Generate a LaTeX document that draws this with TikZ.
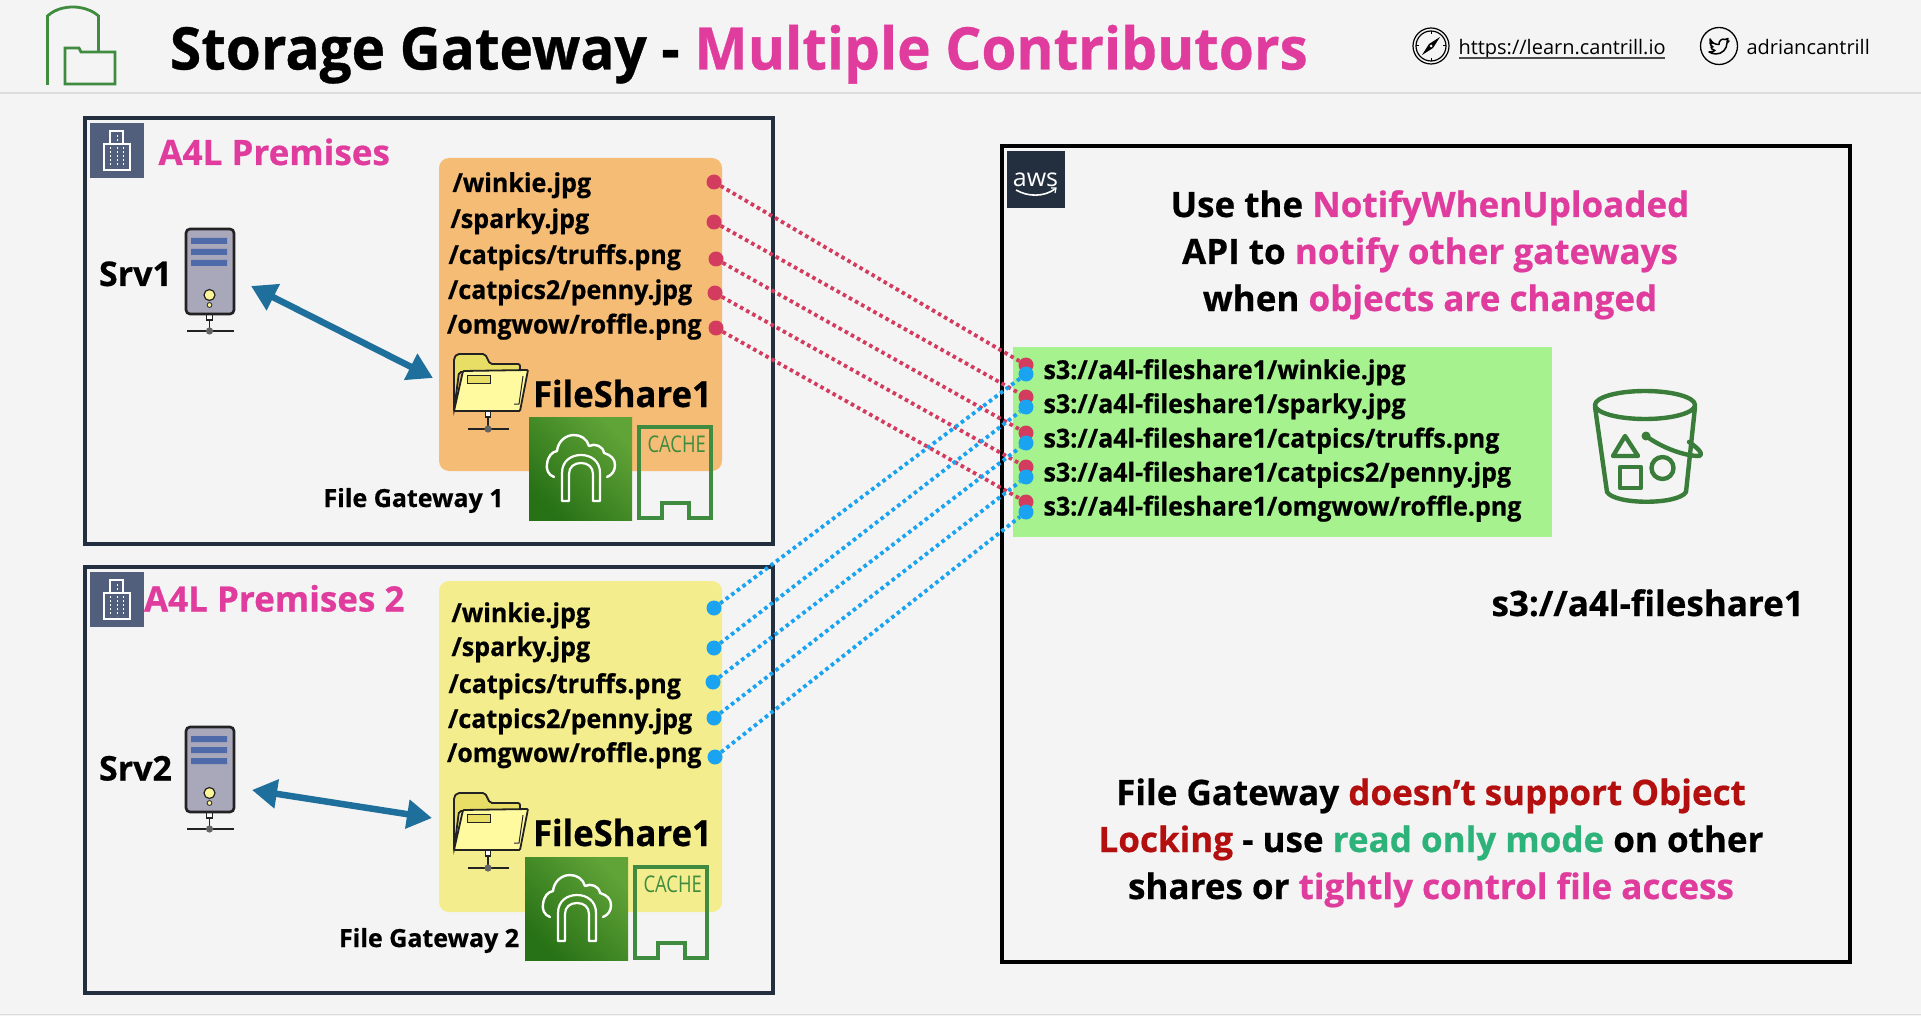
\documentclass[tikz,border=0pt]{standalone}
\usepackage{fontspec}
\setmainfont{Open Sans}[BoldFeatures={FakeBold=0.6}]
\newfontfamily\narrowf{Open Sans}[FakeStretch=0.963,BoldFeatures={FakeBold=0.6}]
\usetikzlibrary{arrows.meta}
\definecolor{bgc}{HTML}{F4F4F4}
\definecolor{hline}{HTML}{DCDCDC}
\definecolor{pinkc}{HTML}{E03C9E}
\definecolor{boxc}{HTML}{232F3E}
\definecolor{bldg}{HTML}{525F7C}
\definecolor{orangep}{HTML}{F4BC75}
\definecolor{yellowp}{HTML}{F4ED8D}
\definecolor{greenp}{HTML}{A6F28E}
\definecolor{redd}{HTML}{D33C5E}
\definecolor{blued}{HTML}{1AA3F0}
\definecolor{arrowc}{HTML}{1F6F9C}
\definecolor{iconG}{HTML}{3F8B3F}
\definecolor{bucketG}{HTML}{3A7D3A}
\definecolor{srvbody}{HTML}{A9A7BA}
\definecolor{srvbay}{HTML}{4F6AA8}
\definecolor{srvline}{HTML}{222222}
\definecolor{ledy}{HTML}{FBF59A}
\definecolor{folderb}{HTML}{E8DE65}
\definecolor{folderf}{HTML}{FFFAA0}
\definecolor{gwdark}{HTML}{277116}
\definecolor{gwlight}{HTML}{60A337}
\definecolor{darkred}{HTML}{B30F0F}
\definecolor{okgreen}{HTML}{2DB37A}
\newcommand{\sz}[1]{\fontsize{#1}{#1}\selectfont}
\tikzset{
  lbl/.style={anchor=base west,inner sep=0pt,outer sep=0pt,text=black},
  ctr/.style={anchor=base,inner sep=0pt,outer sep=0pt,text=black},
  bf/.style={font=\sz{#1}\bfseries},
  nf/.style={font=\narrowf\sz{#1}\bfseries},
  outerbox/.style={draw=boxc,line width=4pt},
  reddot/.style={circle,fill=redd,inner sep=0pt,minimum size=15pt},
  bluedot/.style={circle,fill=blued,inner sep=0pt,minimum size=15pt},
  redlink/.style={draw=redd,line width=3.8pt,dash pattern=on 3.6pt off 3.4pt},
  bluelink/.style={draw=blued,line width=3.8pt,dash pattern=on 3.6pt off 3.4pt},
  bigarrow/.style={draw=arrowc,line width=6.5pt,{Triangle[length=25pt,width=28pt]}-{Triangle[length=25pt,width=28pt]},shorten >=0pt,shorten <=0pt}
}
\newcommand{\drawbldg}[2]{%
  \begin{scope}[shift={(#1,#2)}]
  \fill[bldg] (0,0) rectangle (54,55);
  \draw[white,line width=1.3pt] (14,21) rectangle (40,47) (20,21) -- (20,8) -- (33,8) -- (33,21);
  \draw[white,line width=1pt,dash pattern=on 2pt off 2pt] (20,24)--(20,44) (27,12)--(27,44) (33,24)--(33,44);
  \end{scope}}
\newcommand{\drawserver}[2]{%
  \begin{scope}[shift={(#1,#2)}]
  \draw[srvline,line width=1.5pt] (23.5,85)--(23.5,102) (1,102)--(48,102);
  \fill[srvline!70!white] (23.5,102) circle (3.6pt);
  \filldraw[fill=white,draw=srvline,line width=1.2pt] (20.5,85) rectangle (26.5,91);
  \filldraw[fill=srvbody,draw=srvline,line width=2.6pt,rounded corners=4pt] (0,0) rectangle (48,85);
  \fill[srvbay] (5,9) rectangle (41,15) (5,20) rectangle (41,26) (5,31) rectangle (41,37);
  \filldraw[fill=ledy,draw=srvline,line width=1.2pt] (23.5,66) circle (5.5pt);
  \filldraw[fill=ledy,draw=srvline,line width=.8pt] (23.5,76) circle (2.4pt);
  \end{scope}}
\newcommand{\drawfolder}[2]{%
  \begin{scope}[shift={(#1,#2)}]
  \draw[srvline,line width=1.5pt] (34,57)--(34,75) (14,75)--(55,75);
  \fill[srvline!70!white] (34,75) circle (3.6pt);
  \filldraw[fill=white,draw=srvline,line width=1.2pt] (31.5,57) rectangle (36.5,63);
  \filldraw[fill=folderb,draw=srvline,line width=1.8pt,rounded corners=2pt] (0,57) -- (0,4) -- (3,0) -- (31,0) -- (36,10) -- (66,10) -- (66,18) -- (5,18) -- cycle;
  \filldraw[fill=folderf,draw=srvline,line width=1.8pt,rounded corners=1pt] (0,57) -- (9,17) -- (74,16) -- (66,57) -- cycle;
  \filldraw[fill=folderb,draw=srvline,line width=1pt] (13,21) rectangle (36,29);
  \draw[srvline,line width=1pt] (69,22)--(65,50)--(60,50);
  \end{scope}}
\newcommand{\drawgw}[2]{%
  \begin{scope}[shift={(#1,#2)}]
  \fill[top color=gwlight,bottom color=gwdark,shading angle=-45] (0,0) rectangle (103,103);
  \draw[white,line width=2.4pt,line cap=round,line join=round]
    (25,60) .. controls (19,58) and (17,52) .. (18,47) .. controls (19,39) and (23,35) .. (28,34)
    .. controls (29,24) and (37,18) .. (45,18) .. controls (52,18) and (58,22) .. (60,29)
    .. controls (66,26) and (74,29) .. (75,36) .. controls (82,38) and (86,42) .. (86,48) .. controls (86,54) and (83,58) .. (78,60);
  \draw[white,line width=2.2pt,line join=round]
    (33,84) -- (33,56) .. controls (33,44) and (42,38) .. (52,38) .. controls (62,38) and (71,44) .. (71,56) -- (71,84) -- (64,84) -- (64,57)
    .. controls (64,50) and (59,46) .. (52,46) .. controls (45,46) and (40,50) .. (40,57) -- (40,84) -- cycle;
  \end{scope}}
\newcommand{\drawcache}[2]{%
  \begin{scope}[shift={(#1,#2)}]
  \draw[iconG,line width=3.6pt] (0,0) -- (72,0) -- (72,91) -- (50,91) -- (50,76) -- (23,76) -- (23,91) -- (0,91) -- cycle;
  \node[lbl,text=iconG,font=\sz{23}] at (8.5,25.5) {\scalebox{.8}[1]{CACHE}};
  \end{scope}}
\begin{document}
\begin{tikzpicture}[x=1pt,y=-1pt]
\useasboundingbox (0,0) rectangle (1921,1016);
\fill[bgc] (0,0) rectangle (1921,1016);
\draw[hline,line width=1.5pt] (0,93) -- (1921,93);
\draw[hline,line width=1.5pt] (0,1014.5) -- (1921,1014.5);
% logo
\draw[iconG,line width=2.8pt] (47.5,85) -- (47.5,16) .. controls (55,9) and (65,7) .. (73,7) .. controls (82,7) and (92,10) .. (98.5,16) -- (98.5,51);
\draw[iconG,line width=2.8pt] (65,84) -- (65,48) -- (79,48) -- (81,52) -- (115,52) -- (115,84) -- cycle;
% title
\node[lbl,nf=58.8] (title) at (170,69.5) {Storage Gateway - \textcolor{pinkc}{Multiple Contributors}};
% header right
\draw[black,line width=1.2pt] (1431,46) circle (18pt) (1431,46) circle (15pt);
\fill[black] (1440,37) -- (1433,48) -- (1422,55) -- (1429,44) -- cycle;
\fill[bgc] (1431,46) circle (1.5pt);
\draw[black,line width=1pt] (1431,31)--(1431,34) (1431,58)--(1431,61) (1416,46)--(1419,46) (1443,46)--(1446,46);
\node[lbl,font=\sz{20}] (web) at (1458.5,55) {https://learn.cantrill.io};
\draw[black!70,line width=1.2pt] (1459,58) -- (1665,58);
\draw[black,line width=1.3pt] (1719,46) circle (18.5pt);
\begin{scope}[shift={(1719,46)}]
\draw[black,line width=1.5pt,line join=round] (-9,-7) .. controls (-7,-3) and (-4,-1.5) .. (0,-1.5) .. controls (-0.5,-5) and (3,-8) .. (6,-6.5) -- (9,-7.5) -- (8,-4.5) -- (10,-5) -- (8,-3) .. controls (8,3) and (3,8) .. (-3,8) .. controls (-6,8) and (-8,7) .. (-10,6) .. controls (-7,6) and (-5,5.5) .. (-4,4.5) .. controls (-7,4) and (-8,2) .. (-8,1) -- (-6,1) .. controls (-8,0) and (-9,-2) .. (-9,-3) -- (-7,-2.5) .. controls (-9,-4) and (-9.5,-5.5) .. (-9,-7) -- cycle;
\end{scope}
\node[lbl,font=\sz{20}] (tw) at (1746.5,55) {adriancantrill};
% boxes
\draw[outerbox] (85,118) rectangle (773,544);
\draw[outerbox] (85,567) rectangle (773,993);
\draw[draw=black,line width=4pt] (1002,146) rectangle (1850,962);
% panels
\fill[orangep,rounded corners=10pt] (439,158) rectangle (722,471);
\fill[yellowp,rounded corners=10pt] (439,581) rectangle (722,912);
\fill[greenp] (1013,347) rectangle (1552,537);
% premises labels
\drawbldg{90}{123}
\drawbldg{90}{572}
\node[lbl,bf=35] (p1) at (158.5,165) {\textcolor{pinkc}{A4L Premises}};
\node[lbl,bf=35] (p2) at (144,611.5) {\textcolor{pinkc}{A4L Premises 2}};
% servers
\drawserver{186}{229}
\drawserver{186}{727}
\node[lbl,bf=34] (srv1) at (99,286) {Srv1};
\node[lbl,bf=34] (srv2) at (99,780.5) {Srv2};
% folders
\drawfolder{454}{354}
\drawfolder{454}{793}
\node[lbl,nf=36] (fs1) at (533,407) {FileShare1};
\node[lbl,nf=36] (fs2) at (533,846) {FileShare1};
% arrows
\coordinate (s1a) at (251,286);
\coordinate (f1a) at (433,378);
\coordinate (s2a) at (252,790);
\coordinate (f2a) at (432,818);
\draw[bigarrow] (s1a) -- (f1a);
\draw[bigarrow] (s2a) -- (f2a);
% gateways
\drawgw{529}{417}
\drawgw{525}{857}
\drawcache{639}{427}
\drawcache{635}{867}
\node[lbl,bf=25] (g1) at (323.5,507) {File Gateway 1};
\node[lbl,bf=25] (g2) at (339,947) {File Gateway 2};
% orange file names
\node[lbl,nf=26] (o1) at (452.5,192) {/winkie.jpg};
\node[lbl,nf=26] (o2) at (450.5,228) {/sparky.jpg};
\node[lbl,nf=26] (o3) at (448.5,264) {/catpics/truffs.png};
\node[lbl,nf=26] (o4) at (448,299) {/catpics2/penny.jpg};
\node[lbl,nf=26] (o5) at (447,333.5) {/omgwow/roffle.png};
% yellow file names
\node[lbl,nf=26] (y1) at (451.5,622) {/winkie.jpg};
\node[lbl,nf=26] (y2) at (451.5,656) {/sparky.jpg};
\node[lbl,nf=26] (y3) at (448.5,693) {/catpics/truffs.png};
\node[lbl,nf=26] (y4) at (448,728) {/catpics2/penny.jpg};
\node[lbl,nf=26] (y5) at (447,762) {/omgwow/roffle.png};
% s3 names
\node[lbl,nf=26] (k1) at (1043.5,379) {s3://a4l-fileshare1/winkie.jpg};
\node[lbl,nf=26] (k2) at (1043.5,413) {s3://a4l-fileshare1/sparky.jpg};
\node[lbl,nf=26] (k3) at (1043.5,447.5) {s3://a4l-fileshare1/catpics/truffs.png};
\node[lbl,nf=26] (k4) at (1043.5,481.5) {s3://a4l-fileshare1/catpics2/penny.jpg};
\node[lbl,nf=26] (k5) at (1043.5,515.5) {s3://a4l-fileshare1/omgwow/roffle.png};
% dots
\node[reddot] (ro1) at (714,182) {};
\node[reddot] (ro2) at (714,222) {};
\node[reddot] (ro3) at (716,259) {};
\node[reddot] (ro4) at (715,293) {};
\node[reddot] (ro5) at (716,328) {};
\node[reddot] (rs1) at (1026,365) {};
\node[reddot] (rs2) at (1026,397) {};
\node[reddot] (rs3) at (1026,433) {};
\node[reddot] (rs4) at (1026,467) {};
\node[reddot] (rs5) at (1026,502) {};
\node[bluedot] (bo1) at (714,608) {};
\node[bluedot] (bo2) at (714,648) {};
\node[bluedot] (bo3) at (713,682) {};
\node[bluedot] (bo4) at (714,718) {};
\node[bluedot] (bo5) at (715,757) {};
\node[bluedot] (bs1) at (1026,374) {};
\node[bluedot] (bs2) at (1026,407) {};
\node[bluedot] (bs3) at (1026,443) {};
\node[bluedot] (bs4) at (1026,477) {};
\node[bluedot] (bs5) at (1026,512) {};
% links
\foreach \i in {1,...,5}{\draw[redlink] (ro\i) -- (rs\i);}
\foreach \i in {1,...,5}{\draw[bluelink] (bo\i) -- (bs\i);}
% aws badge
\fill[boxc] (1007,151) rectangle (1065,208);
\node[ctr,text=white,font=\sz{25}] (aws) at (1035.5,187) {aws};
\draw[white,line width=1.6pt] (1016,190) .. controls (1028,197) and (1044,197) .. (1055,189);
\draw[white,line width=1.2pt] (1051,188) -- (1056,188) -- (1055,193);
% aws heading
\node[ctr,bf=35] (h1) at (1430,217) {Use the \textcolor{pinkc}{NotifyWhenUploaded}};
\node[ctr,bf=35] (h2) at (1430,264) {API to \textcolor{pinkc}{notify other gateways}};
\node[ctr,bf=35] (h3) at (1430,311) {when \textcolor{pinkc}{objects are changed}};
% bucket
\begin{scope}[bucketG,line width=4.4pt,line join=round,line cap=round]
\draw (1645,405) ellipse (50pt and 14pt);
\draw (1595,407) -- (1607,492) .. controls (1615,505) and (1678,505) .. (1686,492) -- (1695,407);
\draw (1625,436) -- (1613,456) -- (1638,456) -- cycle;
\draw (1620,467) rectangle (1641,488);
\draw (1662.5,468) circle (11pt);
\draw (1646,436) .. controls (1662,448) and (1685,456) .. (1699,456) .. controls (1705,454) and (1695,446) .. (1689,442);
\fill (1646,436) circle (4.5pt);
\end{scope}
\node[lbl,bf=35] (bname) at (1491.5,616) {s3://a4l-fileshare1};
% bottom note
\node[ctr,bf=35] (n1) at (1431,805) {File Gateway \textcolor{darkred}{doesn’t support Object}};
\node[ctr,bf=35] (n2) at (1431,852) {\textcolor{darkred}{Locking} - use \textcolor{okgreen}{read only mode} on other};
\node[ctr,bf=35] (n3) at (1431,899) {shares or \textcolor{pinkc}{tightly control file access}};
\end{tikzpicture}
\end{document}
